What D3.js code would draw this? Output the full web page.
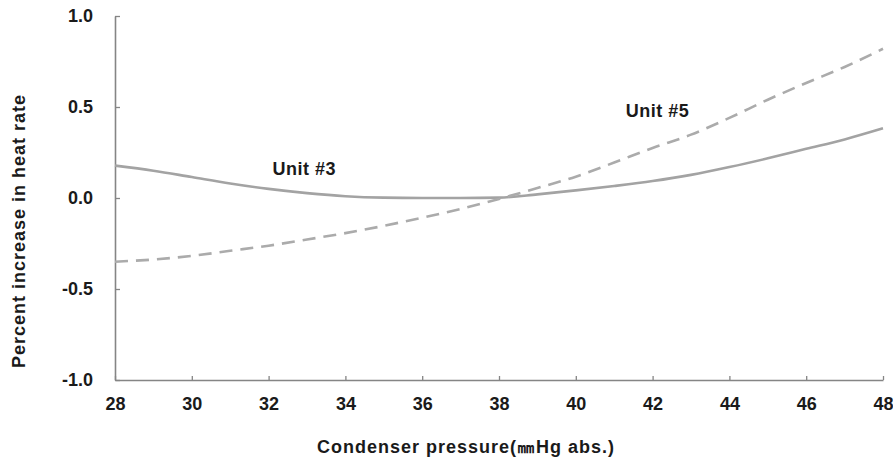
<!DOCTYPE html>
<html>
<head>
<meta charset="utf-8">
<script src="https://cdn.jsdelivr.net/npm/d3@7"></script>
<style>
  body { margin: 0; background: #fff; }
  text { font-family: "Liberation Sans", Arial, sans-serif; font-weight: bold; fill: #1a1a1a; }
</style>
</head>
<body>
<div id="chart"></div>
<script>
// condenser pressure (mmHg abs.)
const pressure = [28, 29, 30, 31, 32, 33, 34, 35, 36, 37, 38, 39, 40, 41, 42, 43, 44, 45, 46, 47, 48];
// percent increase in heat rate
const unit3 = [0.178, 0.15, 0.115, 0.08, 0.05, 0.027, 0.01, 0.002, 0.0, 0.0, 0.002, 0.02, 0.042, 0.066, 0.093, 0.127, 0.17, 0.218, 0.27, 0.322, 0.383];
const unit5 = [-0.35, -0.338, -0.318, -0.29, -0.262, -0.228, -0.193, -0.153, -0.108, -0.06, -0.005, 0.055, 0.117, 0.195, 0.275, 0.348, 0.44, 0.54, 0.632, 0.72, 0.82];

const xTicks = [28, 30, 32, 34, 36, 38, 40, 42, 44, 46, 48];
const yTicks = [-1, -0.5, 0, 0.5, 1];
const yTickLabels = ["-1.0", "-0.5", "0.0", "0.5", "1.0"];

const seriesLabels = [
  { name: "Unit #3", x: 32.1, y: 0.125 },
  { name: "Unit #5", x: 41.3, y: 0.445 }
];

const width = 893, height = 458;
const margin = { top: 16, right: 10, bottom: 78, left: 115 };

const svg = d3.select("#chart").append("svg")
  .attr("width", width)
  .attr("height", height);

const xScale = d3.scaleLinear()
  .domain([28, 48])
  .range([margin.left, width - margin.right]);

const yScale = d3.scaleLinear()
  .domain([-1, 1])
  .range([height - margin.bottom, margin.top]);

// axes
const axisColor = "#858585";

const yAxis = d3.axisLeft(yScale)
  .tickValues(yTicks)
  .tickFormat((d, i) => yTickLabels[i])
  .tickSizeInner(-5)
  .tickSizeOuter(0)
  .tickPadding(22);

const yG = svg.append("g")
  .attr("transform", "translate(" + margin.left + ",0)")
  .call(yAxis);

const xAxis = d3.axisBottom(xScale)
  .tickValues(xTicks)
  .tickSizeInner(-4)
  .tickSizeOuter(0)
  .tickPadding(17);

const xG = svg.append("g")
  .attr("transform", "translate(0," + (height - margin.bottom) + ")")
  .call(xAxis);

[xG, yG].forEach(g => {
  g.select(".domain").attr("stroke", axisColor).attr("stroke-width", 1.6);
  g.selectAll(".tick line").attr("stroke", axisColor).attr("stroke-width", 1.3);
  g.selectAll(".tick text")
    .attr("fill", "#1a1a1a")
    .style("font-size", "18px")
    .style("font-family", "'Liberation Sans', Arial, sans-serif")
    .style("font-weight", "bold");
});

// lines
const line = d3.line()
  .x((d, i) => xScale(pressure[i]))
  .y(d => yScale(d))
  .curve(d3.curveMonotoneX);

svg.append("path")
  .datum(unit3)
  .attr("d", line)
  .attr("fill", "none")
  .attr("stroke", "#a3a3a3")
  .attr("stroke-width", 2.6);

svg.append("path")
  .datum(unit5)
  .attr("d", line)
  .attr("fill", "none")
  .attr("stroke", "#ababab")
  .attr("stroke-width", 2.6)
  .attr("stroke-dasharray", "13,8");

// series labels
svg.selectAll(".series-label")
  .data(seriesLabels)
  .enter()
  .append("text")
  .attr("class", "series-label")
  .attr("x", d => xScale(d.x))
  .attr("y", d => yScale(d.y))
  .style("font-size", "18px")
  .style("letter-spacing", "0.5px")
  .text(d => d.name);

// axis titles
svg.append("text")
  .attr("x", 466)
  .attr("y", 453)
  .attr("text-anchor", "middle")
  .style("font-size", "18px")
  .style("letter-spacing", "1px")
  .text("Condenser pressure(㎜Hg abs.)");

svg.append("text")
  .attr("transform", "translate(25,231) rotate(-90)")
  .attr("text-anchor", "middle")
  .style("font-size", "18px")
  .style("letter-spacing", "1px")
  .text("Percent increase in heat rate");
</script>
</body>
</html>
